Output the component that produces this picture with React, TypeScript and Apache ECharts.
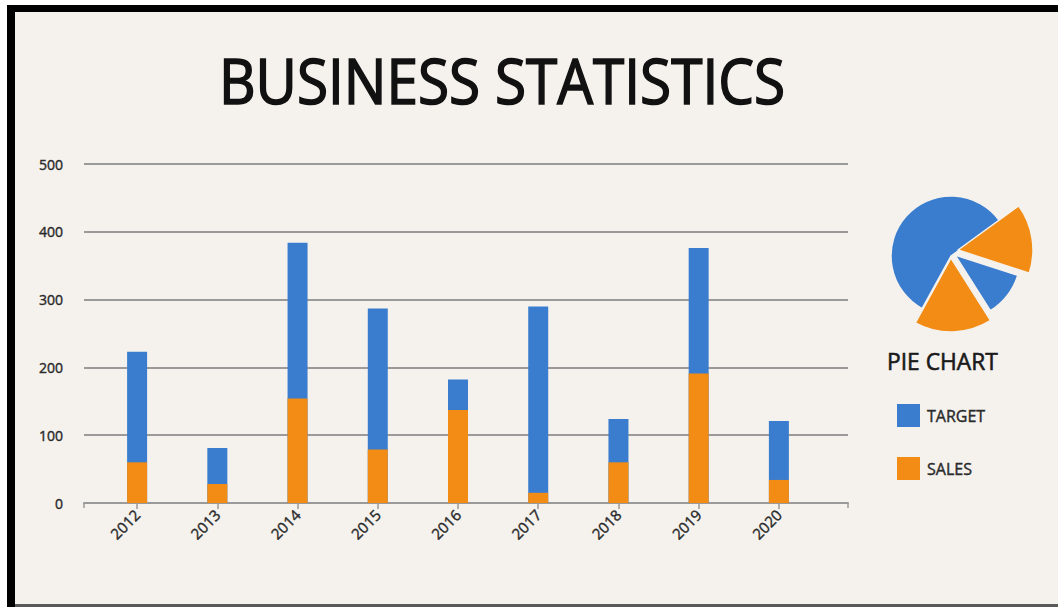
import React, { useEffect, useRef } from "react";
import * as echarts from "echarts";

const YEARS = ["2012", "2013", "2014", "2015", "2016", "2017", "2018", "2019", "2020"];
const TARGET = [223, 81, 384, 287, 182, 290, 124, 376, 121];
const SALES = [60, 28, 154, 79, 137, 15, 60, 191, 34];
const Y_MIN = 0;
const Y_MAX = 500;
const Y_STEP = 100;

const PIE_NAMES = ["SALES", "TARGET", "SALES", "TARGET"];
const PIE_VALUES = [15, 11, 17, 57];

const BLUE = "#3a7dce";
const ORANGE = "#f28c14";
const BG = "#f5f2ee";

// styling per pie slice (radius / centre), in slice order
const PIE_RADIUS = [75, 66, 74, 60];
const PIE_CENTER = [
  [958, 250],
  [955, 255],
  [951, 258],
  [951, 256],
];

export default function App() {
  const ref = useRef<HTMLDivElement>(null);
  useEffect(() => {
    if (!ref.current) return;
    const chart = echarts.init(ref.current, undefined, { renderer: "svg" });
    const font = "'Open Sans', 'Noto Sans', sans-serif";
    const pieSeries = PIE_VALUES.map((_, k) => ({
      type: "pie",
      silent: true,
      center: PIE_CENTER[k],
      radius: [0, PIE_RADIUS[k]],
      startAngle: 36,
      clockwise: true,
      label: { show: false },
      labelLine: { show: false },
      emphasis: { disabled: true },
      legendHoverLink: false,
      z: k === 3 ? 3 : 4,
      data: PIE_VALUES.map((v, i) => ({
        name: PIE_NAMES[i],
        value: v,
        itemStyle:
          i === k
            ? { color: PIE_NAMES[i] === "SALES" ? ORANGE : BLUE, borderColor: BG, borderWidth: 1.5 }
            : { color: "rgba(0,0,0,0)", borderWidth: 0 },
      })),
    }));

    const labelStyle = {
      color: "#2a2a2a",
      fontFamily: font,
      textBorderColor: "#2a2a2a",
      textBorderWidth: 0.4,
    };

    chart.setOption({
      animation: false,
      backgroundColor: BG,
      textStyle: { fontFamily: font },
      legend: {
        data: ["TARGET", "SALES"],
        orient: "vertical",
        left: 892,
        top: 399,
        itemWidth: 23,
        itemHeight: 23,
        itemGap: 30,
        icon: "rect",
        selectedMode: false,
        textStyle: { fontSize: 16, ...labelStyle, padding: [0, 0, 0, 2] },
      },
      grid: [
        { left: 84, right: 210, top: 164, bottom: 104, containLabel: false, outerBoundsMode: "none" },
        { left: 97, right: 239, top: 164, bottom: 104, containLabel: false, outerBoundsMode: "none" },
      ],
      xAxis: [
        {
          type: "value",
          gridIndex: 0,
          min: 0,
          max: 1,
          interval: 1,
          axisLine: { show: true, lineStyle: { color: "#9a9a9a", width: 2 } },
          axisTick: { show: true, length: 5, lineStyle: { color: "#9a9a9a", width: 1.5 } },
          axisLabel: { show: false },
          splitLine: { show: false },
        },
        {
          type: "category",
          gridIndex: 1,
          data: YEARS,
          axisLine: { show: false },
          axisTick: { show: true, alignWithLabel: true, length: 6, lineStyle: { color: "#9a9a9a", width: 1.5 } },
          axisLabel: { rotate: 45, fontSize: 15, margin: 9, ...labelStyle },
        },
      ],
      yAxis: [
        {
          type: "value",
          gridIndex: 0,
          min: Y_MIN,
          max: Y_MAX,
          interval: Y_STEP,
          axisLine: { show: false },
          axisTick: { show: false },
          axisLabel: { fontSize: 14, margin: 21, ...labelStyle },
          splitLine: { lineStyle: { color: "#9a9a9a", width: 2 } },
        },
        {
          type: "value",
          gridIndex: 1,
          min: Y_MIN,
          max: Y_MAX,
          interval: Y_STEP,
          show: false,
          splitLine: { show: false },
        },
      ],
      graphic: [
        { type: "rect", shape: { x: 0, y: 0, width: 1058, height: 5 }, style: { fill: "#ffffff" } },
        { type: "rect", shape: { x: 0, y: 0, width: 7, height: 607 }, style: { fill: "#ffffff" } },
        { type: "rect", shape: { x: 7, y: 5, width: 1051, height: 7 }, style: { fill: "#000" } },
        { type: "rect", shape: { x: 7, y: 5, width: 8, height: 602, r: [4, 0, 0, 0] }, style: { fill: "#000" } },
        { type: "rect", shape: { x: 15, y: 604, width: 1043, height: 3 }, style: { fill: "#5a5a5a" } },
        {
          type: "text",
          x: 502,
          y: 80,
          scaleX: 0.9,
          style: {
            text: "BUSINESS STATISTICS",
            fontSize: 63,
            fontFamily: font,
            fill: "#111",
            stroke: "#111",
            lineWidth: 1.6,
            align: "center",
            verticalAlign: "middle",
          },
        },
        {
          type: "text",
          x: 887,
          y: 361,
          scaleX: 0.95,
          style: {
            text: "PIE CHART",
            fontSize: 24,
            fontFamily: font,
            fill: "#1a1a1a",
            stroke: "#1a1a1a",
            lineWidth: 0.6,
            align: "left",
            verticalAlign: "middle",
          },
        },
      ],
      series: [
        {
          name: "TARGET",
          type: "bar",
          xAxisIndex: 1,
          yAxisIndex: 1,
          barWidth: 20,
          barGap: "-100%",
          itemStyle: { color: BLUE },
          data: TARGET,
        },
        {
          name: "SALES",
          type: "bar",
          xAxisIndex: 1,
          yAxisIndex: 1,
          barWidth: 20,
          barGap: "-100%",
          itemStyle: { color: ORANGE },
          data: SALES,
        },
        ...pieSeries,
      ],
    });
    return () => chart.dispose();
  }, []);
  return (
    <div
      ref={ref}
      style={{ position: "fixed", left: 0, top: 0, width: 1058, height: 607 }}
    />
  );
}
